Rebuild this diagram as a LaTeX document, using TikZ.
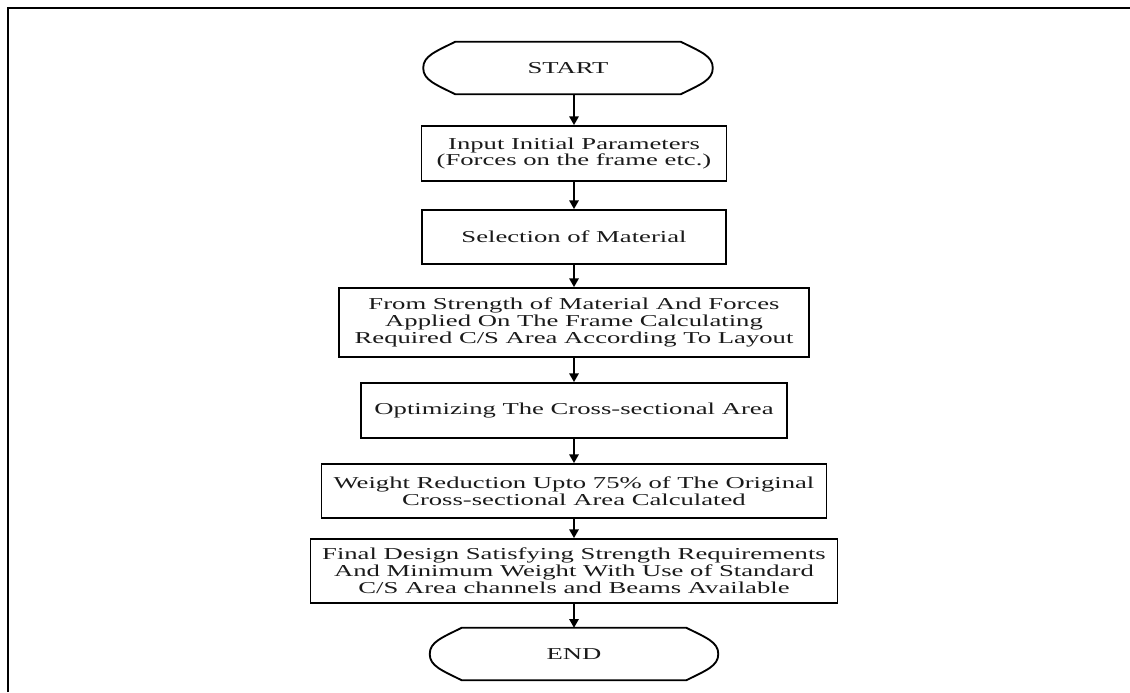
\documentclass[tikz,border=0pt]{standalone}
\usepackage{fontspec}
\setmainfont{Liberation Serif}[FakeStretch=1.6]
\usepackage{tikz}
\usetikzlibrary{arrows.meta}
\definecolor{inkgray}{HTML}{1A1A1A}
\tikzstyle{block} = [draw, line width=1.4pt, align=center, inner sep=0pt, text=inkgray, font=\fontsize{12.5}{12.6}\selectfont]
\tikzstyle{terminal} = [inner sep=0pt, minimum width=289*0.75pt, minimum height=52*0.75pt, text=inkgray, font=\fontsize{12.5}{12.6}\selectfont]
\tikzstyle{flow} = [line width=1.4pt, -{Triangle[width=7pt,length=6.5pt]}]
\tikzstyle{outline} = [line width=1.4pt]
% flat top and bottom, rounded points left and right
\newcommand{\terminalshape}[1]{
	\draw[outline] ([shift={(32,0)}]#1.north west) -- ([shift={(-32,0)}]#1.north east)
		.. controls ([shift={(-12,10)}]#1.north east) and ([shift={(0,-12)}]#1.east) .. (#1.east)
		.. controls ([shift={(0,12)}]#1.east) and ([shift={(-12,-10)}]#1.south east) .. ([shift={(-32,0)}]#1.south east)
		-- ([shift={(32,0)}]#1.south west)
		.. controls ([shift={(12,-10)}]#1.south west) and ([shift={(0,12)}]#1.west) .. (#1.west)
		.. controls ([shift={(0,-12)}]#1.west) and ([shift={(12,10)}]#1.north west) .. cycle;
}

\begin{document}
\begin{tikzpicture}[x=0.75pt,y=-0.75pt]
			\useasboundingbox (0,0) rectangle (1130,692);
			\draw[line width=1.6pt] (8,692) -- (8,8) -- (1130,8);
			% steps of the flow chart
			\node[terminal] (start) at (568,68) {START};
			\node[block, minimum width=305*0.75pt, minimum height=55*0.75pt] (input) at (574,153.5) {Input Initial Parameters\\(Forces on the frame etc.)};
			\node[block, minimum width=304*0.75pt, minimum height=54*0.75pt] (material) at (574,237) {Selection of Material};
			\node[block, minimum width=470*0.75pt, minimum height=69*0.75pt] (area) at (574,322.5) {From Strength of Material And Forces\\Applied On The Frame Calculating\\Required C/S Area According To Layout};
			\node[block, minimum width=426*0.75pt, minimum height=55*0.75pt] (optimize) at (574,410.5) {Optimizing The Cross-sectional Area};
			\node[block, minimum width=505*0.75pt, minimum height=54*0.75pt] (weight) at (574,491) {Weight Reduction Upto 75\% of The Original\\Cross-sectional Area Calculated};
			\node[block, minimum width=527*0.75pt, minimum height=64*0.75pt] (final) at (574,571) {Final Design Satisfying Strength Requirements\\And Minimum Weight With Use of Standard\\C/S Area channels and Beams Available};
			\node[terminal, minimum width=288*0.75pt] (stop) at (574,654) {END};
			\terminalshape{start}
			\terminalshape{stop}
			% arrows
			\draw[flow] (start.south -| input.north) -- (input.north);
			\draw[flow] (input) -- (material);
			\draw[flow] (material) -- (area);
			\draw[flow] (area) -- (optimize);
			\draw[flow] (optimize) -- (weight);
			\draw[flow] (weight) -- (final);
			\draw[flow] (final) -- (stop);
		\end{tikzpicture}
\end{document}
